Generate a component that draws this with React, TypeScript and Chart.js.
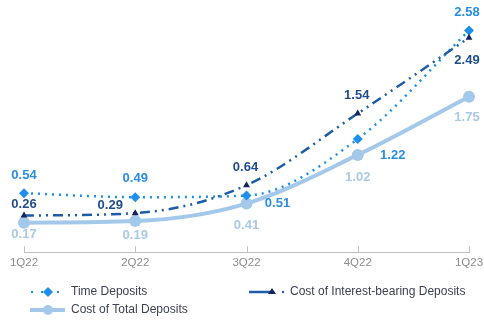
import React, { useEffect, useRef } from "react";
import { Chart, registerables } from "chart.js";

Chart.register(...registerables);

const categories = ["1Q22", "2Q22", "3Q22", "4Q22", "1Q23"];
const timeDeposits = [0.54, 0.49, 0.51, 1.22, 2.58];
const interestBearing = [0.26, 0.29, 0.64, 1.54, 2.49];
const totalDeposits = [0.17, 0.19, 0.41, 1.02, 1.75];

const seriesNames = ["Time Deposits", "Cost of Interest-bearing Deposits", "Cost of Total Deposits"];

// label offsets (px) relative to each point, per series
const labelOffsets = [
  [[0, -18], [0, -19], [31, 8], [35, 16], [-2, -18]],
  [[0, -11], [-25, -8], [-1, -18], [-1, -18], [-2, 23]],
  [[0, 12], [0, 14], [0, 22], [0, 22], [-2, 21]],
];

const C_TIME = "#1E8FEA";
const C_TIME_LBL = "#2A8DE4";
const C_INT = "#1F5CA8";
const C_INT_MARK = "#15265C";
const C_INT_LBL = "#1F4E8C";
const C_TOT = "#A3C8EA";
const C_TOT_LBL = "#A9C9E8";
const FONT = "'Liberation Sans', Arial, sans-serif";

const labelColors = [C_TIME_LBL, C_INT_LBL, C_TOT_LBL];

const overlayPlugin = {
  id: "overlay",
  afterDatasetsDraw(chart: any) {
    const ctx = chart.ctx;
    const xs = chart.scales.x;
    const area = chart.chartArea;
    ctx.save();
    // axis tick marks pointing upward
    ctx.strokeStyle = "#BFBFBF";
    ctx.lineWidth = 1;
    categories.forEach((_, i) => {
      const x = Math.round(xs.getPixelForValue(i)) + 0.5;
      ctx.beginPath();
      ctx.moveTo(x, area.bottom);
      ctx.lineTo(x, area.bottom - 6);
      ctx.stroke();
    });
    // data labels
    ctx.font = `bold 13px ${FONT}`;
    ctx.textAlign = "center";
    ctx.textBaseline = "middle";
    [0, 1, 2].forEach((di) => {
      const meta = chart.getDatasetMeta(di);
      const vals = chart.data.datasets[di].data as number[];
      meta.data.forEach((pt: any, i: number) => {
        const [dx, dy] = labelOffsets[di][i];
        ctx.fillStyle = labelColors[di];
        ctx.fillText(vals[i].toFixed(2), pt.x + dx, pt.y + dy);
      });
    });
    ctx.restore();
  },
  afterDraw(chart: any) {
    const ctx = chart.ctx;
    ctx.save();
    ctx.font = `12px ${FONT}`;
    ctx.textBaseline = "middle";
    ctx.textAlign = "left";
    // Time Deposits sample
    let y = 292;
    ctx.fillStyle = C_TIME;
    [32, 42, 58].forEach((x) => {
      ctx.beginPath();
      ctx.arc(x, y, 1.2, 0, Math.PI * 2);
      ctx.fill();
    });
    ctx.beginPath();
    ctx.moveTo(48, y - 5);
    ctx.lineTo(53, y);
    ctx.lineTo(48, y + 5);
    ctx.lineTo(43, y);
    ctx.closePath();
    ctx.fill();
    ctx.fillStyle = "#3C4252";
    ctx.fillText(seriesNames[0], 71, y);
    // Total deposits sample
    y = 310;
    ctx.strokeStyle = C_TOT;
    ctx.lineWidth = 4;
    ctx.beginPath();
    ctx.moveTo(30, y);
    ctx.lineTo(65, y);
    ctx.stroke();
    ctx.fillStyle = C_TOT;
    ctx.beginPath();
    ctx.arc(48, y, 5, 0, Math.PI * 2);
    ctx.fill();
    ctx.fillStyle = "#3C4252";
    ctx.fillText(seriesNames[2], 71, y);
    // Interest-bearing sample
    y = 292;
    ctx.strokeStyle = C_INT;
    ctx.lineWidth = 2.5;
    ctx.beginPath();
    ctx.moveTo(249, y);
    ctx.lineTo(272, y);
    ctx.stroke();
    ctx.fillStyle = C_INT_MARK;
    ctx.beginPath();
    ctx.moveTo(272, y - 4);
    ctx.lineTo(276, y + 2);
    ctx.lineTo(268, y + 2);
    ctx.closePath();
    ctx.fill();
    ctx.fillStyle = C_INT;
    ctx.beginPath();
    ctx.arc(283, y, 1.2, 0, Math.PI * 2);
    ctx.fill();
    ctx.fillStyle = "#3C4252";
    ctx.fillText(seriesNames[1], 290, y);
    ctx.restore();
  },
};

export default function App() {
  const ref = useRef<HTMLCanvasElement | null>(null);
  useEffect(() => {
    if (!ref.current) return;
    const chart = new Chart(ref.current, {
      type: "line",
      data: {
        labels: categories,
        datasets: [
          {
            label: seriesNames[0],
            data: timeDeposits,
            borderColor: C_TIME,
            backgroundColor: C_TIME,
            borderWidth: 2.5,
            borderDash: [2, 5],
            pointStyle: "rectRot",
            pointRadius: 5,
            pointBorderWidth: 0,
            cubicInterpolationMode: "monotone",
            clip: false,
            order: 2,
          } as any,
          {
            label: seriesNames[1],
            data: interestBearing,
            borderColor: C_INT,
            backgroundColor: C_INT_MARK,
            borderWidth: 2.5,
            borderDash: [10, 5, 2, 5, 2, 5],
            pointStyle: "triangle",
            pointRadius: 4,
            pointBorderWidth: 0,
            cubicInterpolationMode: "monotone",
            clip: false,
            order: 1,
          } as any,
          {
            label: seriesNames[2],
            data: totalDeposits,
            borderColor: C_TOT,
            backgroundColor: C_TOT,
            borderWidth: 4,
            pointStyle: "circle",
            pointRadius: 6,
            pointBorderWidth: 0,
            cubicInterpolationMode: "monotone",
            clip: false,
            order: 3,
          } as any,
        ],
      },
      options: {
        animation: false,
        responsive: false,
        maintainAspectRatio: false,
        layout: { padding: { left: 24, right: 15, top: 13, bottom: 49 } },
        plugins: { legend: { display: false }, tooltip: { enabled: false } },
        scales: {
          x: {
            offset: false,
            grid: { display: false, drawTicks: false, tickLength: 0 },
            border: { display: true, color: "#BFBFBF", width: 1 },
            ticks: {
              color: "#8C8C8C",
              font: { family: FONT, size: 11.5 },
              padding: 4,
              maxRotation: 0,
              autoSkip: false,
            },
            afterFit(scale: any) {
              scale.paddingLeft = 0;
              scale.paddingRight = 0;
            },
          } as any,
          y: { display: false, min: -0.2, max: 2.8 },
        },
      },
      plugins: [overlayPlugin],
    });
    return () => chart.destroy();
  }, []);
  return (
    <div style={{ position: "fixed", left: 0, top: 0, width: 484, height: 323, background: "#fff" }}>
      <canvas ref={ref} width={484} height={323} style={{ width: 484, height: 323 }} />
    </div>
  );
}
